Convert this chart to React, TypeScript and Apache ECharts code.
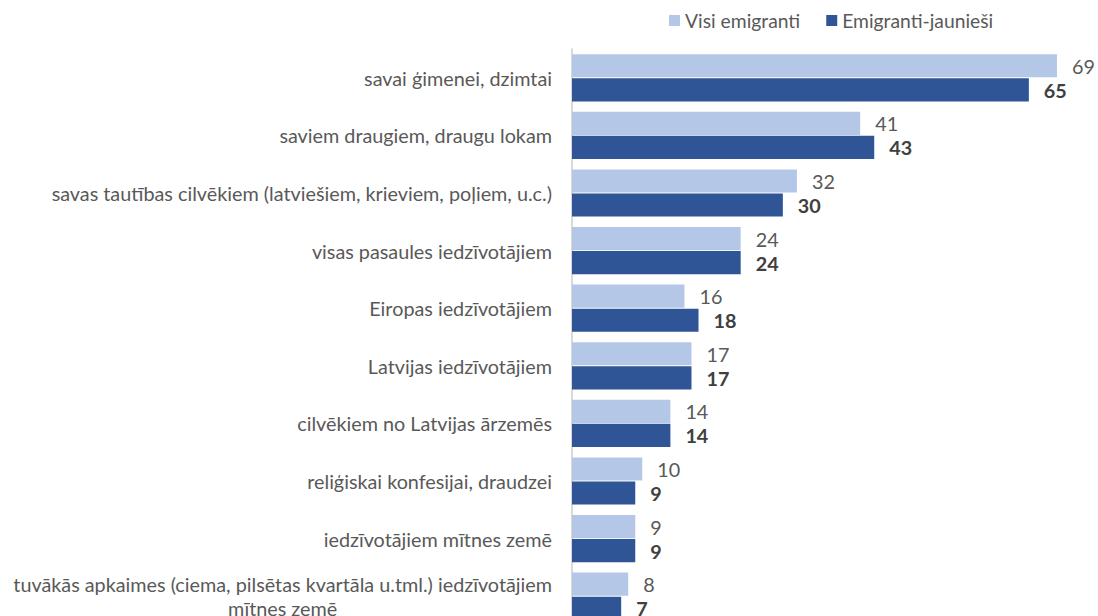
import React, { useEffect, useRef } from "react";
import * as echarts from "echarts";

const categories = [
  "savai ģimenei, dzimtai",
  "saviem draugiem, draugu lokam",
  "savas tautības cilvēkiem (latviešiem, krieviem, poļiem, u.c.)",
  "visas pasaules iedzīvotājiem",
  "Eiropas iedzīvotājiem",
  "Latvijas iedzīvotājiem",
  "cilvēkiem no Latvijas ārzemēs",
  "reliģiskai konfesijai, draudzei",
  "iedzīvotājiem mītnes zemē",
  "tuvākās apkaimes (ciema, pilsētas kvartāla u.tml.) iedzīvotājiem\nmītnes zemē",
];
const seriesNames = ["Visi emigranti", "Emigranti-jaunieši"];
const allEmigrants = [69, 41, 32, 24, 16, 17, 14, 10, 9, 8];
const youngEmigrants = [65, 43, 30, 24, 18, 17, 14, 9, 9, 7];

const FONT = "Lato";
const FS = 19.8;

export default function App() {
  const ref = useRef<HTMLDivElement>(null);
  useEffect(() => {
    const chart = echarts.init(ref.current!, null, { renderer: "svg" });
    chart.setOption({
      animation: false,
      textStyle: { fontFamily: FONT },
      legend: {
        top: 6,
        left: 664,
        itemWidth: 11,
        itemHeight: 11,
        itemGap: 26,
        icon: "rect",
        textStyle: { fontSize: 19.3, color: "#595959", fontFamily: FONT },
        data: seriesNames,
      },
      grid: { left: 572, top: 49, width: 492, height: 576 },
      xAxis: {
        type: "value",
        min: 0,
        max: 70,
        show: false,
      },
      yAxis: {
        type: "category",
        inverse: true,
        data: categories,
        axisLine: { show: true, lineStyle: { color: "#d9d9d9", width: 2 } },
        axisTick: { show: false },
        axisLabel: {
          margin: 20,
          fontSize: FS,
          color: "#595959",
          fontFamily: FONT,
          formatter: (v: string) =>
            v.indexOf("\n") >= 0
              ? v
                  .split("\n")
                  .map((s) => "{c|" + s + "}")
                  .join("\n")
              : v,
          rich: {
            c: { align: "center", fontSize: FS, color: "#595959", fontFamily: FONT, lineHeight: 24 },
          },
        },
      },
      series: [
        {
          name: seriesNames[0],
          type: "bar",
          data: allEmigrants,
          barGap: "4%",
          barCategoryGap: "18%",
          itemStyle: { color: "#b4c7e7" },
          label: {
            show: true,
            position: "right",
            distance: 15,
            fontSize: FS,
            color: "#595959",
            fontFamily: FONT,
          },
        },
        {
          name: seriesNames[1],
          type: "bar",
          data: youngEmigrants,
          barGap: "4%",
          barCategoryGap: "18%",
          itemStyle: { color: "#2f5597" },
          label: {
            show: true,
            position: "right",
            distance: 15,
            fontSize: FS,
            fontWeight: "bold",
            color: "#404040",
            fontFamily: FONT,
          },
        },
      ],
    });
    return () => chart.dispose();
  }, []);
  return (
    <div
      style={{
        position: "fixed",
        left: 0,
        top: 0,
        width: 1098,
        height: 616,
        overflow: "hidden",
        background: "#ffffff",
      }}
    >
      <div ref={ref} style={{ width: 1098, height: 640 }} />
    </div>
  );
}
